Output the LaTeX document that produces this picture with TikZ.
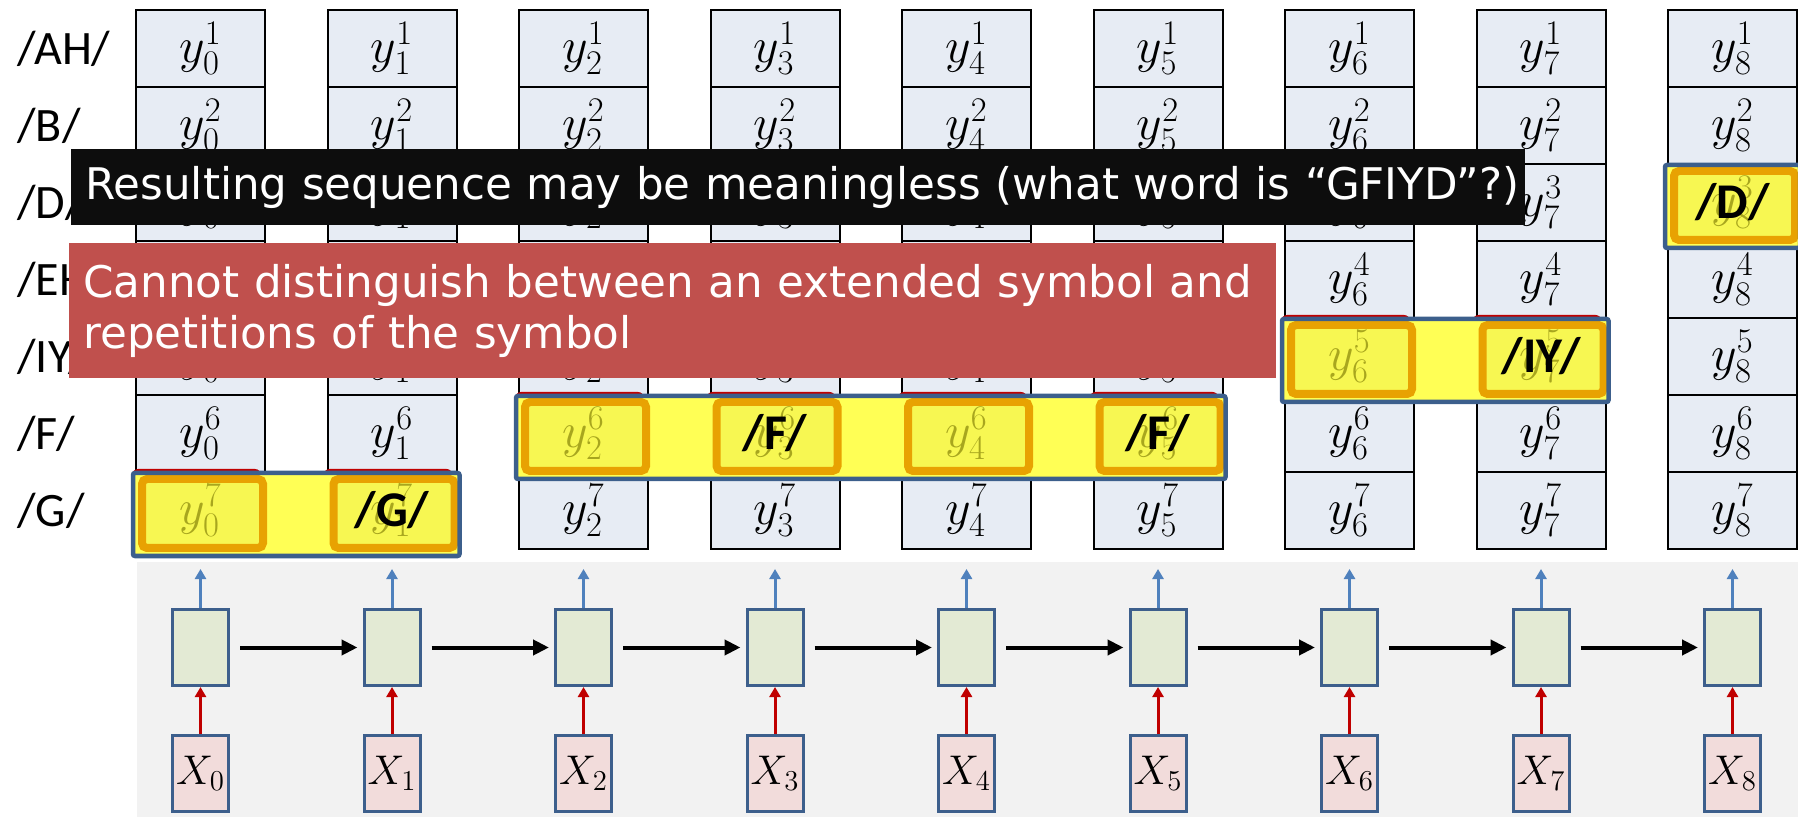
\documentclass[tikz,border=0pt]{standalone}
\usepackage{fontspec}
\setmainfont{Carlito}
\newfontfamily\notefont{DejaVu Sans}
\usetikzlibrary{arrows.meta,positioning}
\definecolor{cellfill}{RGB}{231,236,244}
\definecolor{runred}{RGB}{192,0,0}
\definecolor{runyellow}{RGB}{255,255,85}
\definecolor{runorange}{RGB}{232,162,2}
\definecolor{runlight}{RGB}{247,247,82}
\definecolor{runblue}{RGB}{60,95,140}
\definecolor{fadedtext}{RGB}{168,166,30}
\definecolor{rnnbg}{RGB}{242,242,242}
\definecolor{stategreen}{RGB}{227,234,212}
\definecolor{inputpink}{RGB}{242,220,219}
\definecolor{rnnedge}{RGB}{61,95,140}
\definecolor{outblue}{RGB}{79,129,189}
\definecolor{notered}{RGB}{192,80,77}
\definecolor{noteblack}{RGB}{13,13,13}
\tikzset{
  ycell/.style ={rectangle, draw=black, fill=cellfill, line width=1pt,
                 minimum width=64.5pt, minimum height=38.5pt, inner sep=0pt,
                 font=\fontsize{24}{28}\selectfont},
  phonelabel/.style={anchor=west, inner sep=0pt, font=\fontsize{24}{28}\selectfont},
  runback/.style={rectangle, rounded corners=3pt, fill=runred,
                  minimum width=64.5pt, minimum height=38.5pt, inner sep=0pt},
  runband/.style={fill=runyellow},
  runframe/.style={draw=runblue, line width=2.25pt, rounded corners=1pt},
  runcell/.style={rectangle, rounded corners=2.5pt, draw=runorange, fill=runlight,
                  line width=4pt, minimum width=60.5pt, minimum height=34.5pt, inner sep=0pt},
  fadedlabel/.style={text=fadedtext, inner sep=0pt, font=\fontsize{24}{28}\selectfont},
  symlabel/.style={inner sep=0pt, font=\fontsize{25}{28}\selectfont\bfseries},
  hstate/.style={rectangle, draw=rnnedge, fill=stategreen, line width=1.5pt,
                 minimum width=28pt, minimum height=38pt, inner sep=0pt},
  xinput/.style={hstate, fill=inputpink, font=\fontsize{21}{24}\selectfont},
  recur/.style  ={-{Triangle[length=8pt,width=7.5pt]}, line width=2pt, black,
                  shorten <=5pt, shorten >=2.5pt},
  feedin/.style ={-{Triangle[length=5pt,width=5.5pt]}, line width=1.5pt, runred},
  feedout/.style={-{Triangle[length=5pt,width=5.5pt]}, line width=1.5pt, outblue,
                  shorten >=9.5pt},
  note/.style={rectangle, anchor=north west, inner xsep=7pt, inner ysep=0pt,
               text=white, align=left, font=\notefont\fontsize{21.8}{25.5}\selectfont},
}

\begin{document}
\begin{tikzpicture}[x=0.5pt, y=-0.5pt]
  \useasboundingbox (0,0) rectangle (1798,817);
  \fill[rnnbg] (137,562) rectangle (1798,817);

  % output grid
  \foreach \ph [count=\r] in {AH,B,D,EH,IY,F,G}
    \node[phonelabel] (ph\r) at (17,{48.5+77*(\r-1)}) {/\ph/};
  \foreach \c in {0,...,8}
    \foreach \r in {1,...,7}
      \node[ycell] (y\c-\r) at ({200.5+191.5*\c},{48.5+77*(\r-1)}) {$y_{\c}^{\r}$};

  % chosen path
  \foreach \c/\r in {0/7,1/7,2/6,3/6,4/6,5/6,6/5,7/5}
    \node[runback] at ([xshift=-2pt,yshift=1.5pt]y\c-\r.center) {};
  \foreach \a/\b/\r in {0/1/7,2/5/6,6/7/5,8/8/3}
    \fill[runband] ([xshift=-1pt,yshift=-1pt]y\a-\r.north west) rectangle ([xshift=1pt,yshift=-3pt]y\b-\r.south east);
  \foreach \c/\r in {0/7,1/7,2/6,3/6,4/6,5/6,6/5,7/5,8/3} {
    \node[runcell] at ([xshift=1pt,yshift=-1.5pt]y\c-\r.center) {};
    \node[fadedlabel] at (y\c-\r) {$y_{\c}^{\r}$};
  }
  \foreach \a/\b/\r in {0/1/7,2/5/6,6/7/5,8/8/3}
    \draw[runframe] ([xshift=-1pt,yshift=-1pt]y\a-\r.north west) rectangle ([xshift=1pt,yshift=-3pt]y\b-\r.south east);
  \foreach \c/\r/\s in {1/7/G,3/6/F,5/6/F,7/5/IY,8/3/D}
    \node[symlabel] at (y\c-\r) {/\s/};

  % recurrent net
  \foreach \c in {0,...,8} {
    \node[hstate] (h\c) at ({200.5+191.5*\c},647.5) {};
    \node[xinput] (x\c) at ({200.5+191.5*\c},773) {$X_{\c}$};
    \draw[feedin] (x\c) -- (h\c);
    \draw[feedout] (h\c) -- (y\c-7);
  }
  \foreach \c [count=\n] in {0,...,7}
    \draw[recur] (h\c) -- (h\n);

  % remarks
  \node[note, fill=noteblack, minimum width=727pt, minimum height=38pt, text width=713pt]
    (seqnote) at (71,149) {\mbox{Resulting sequence may be meaningless (what word is “GFIYD”?)}};
  \node[note, fill=notered, minimum width=603.5pt, minimum height=67.5pt, text width=589.5pt]
    (repnote) at (69,243) {\mbox{Cannot distinguish between an extended symbol and}\\repetitions of the symbol};
\end{tikzpicture}
\end{document}
